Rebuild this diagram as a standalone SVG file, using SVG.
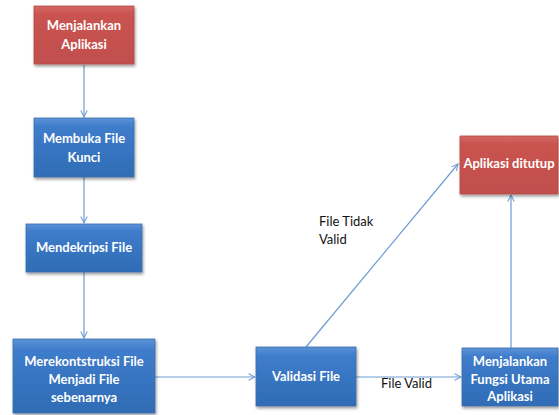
<svg xmlns="http://www.w3.org/2000/svg" width="559" height="415" viewBox="0 0 559 415">
<style>
.t{font-family:Lato,"Open Sans","Liberation Sans",sans-serif;font-weight:bold;font-size:13px;fill:#fff;text-anchor:middle}
.l{font-family:Lato,"Open Sans","Liberation Sans",sans-serif;font-size:13px;fill:#111}
.c{stroke:#6f9bd2;stroke-width:1.2;fill:none;marker-end:url(#ah)}
.red{fill:url(#gr);stroke:#b54a47;stroke-width:0.8;filter:url(#sh)}
.blue{fill:url(#gb);stroke:#3d6ea8;stroke-width:0.8;filter:url(#sh)}
</style>
<defs>
<linearGradient id="gr" x1="0" y1="0" x2="0" y2="1">
<stop offset="0" stop-color="#d46865"/><stop offset="0.15" stop-color="#c9524f"/><stop offset="1" stop-color="#c0504d"/>
</linearGradient>
<linearGradient id="gb" x1="0" y1="0" x2="0" y2="1">
<stop offset="0" stop-color="#5c93d8"/><stop offset="0.15" stop-color="#3f7ccb"/><stop offset="1" stop-color="#2f6cb5"/>
</linearGradient>
<filter id="sh" x="-10%" y="-10%" width="125%" height="130%">
<feDropShadow dx="1" dy="2" stdDeviation="1.5" flood-color="#000" flood-opacity="0.4"/>
</filter>
<marker id="ah" viewBox="0 0 10 10" refX="9" refY="5" markerWidth="8" markerHeight="8" orient="auto" markerUnits="userSpaceOnUse">
<path d="M1,1 L9,5 L1,9" fill="none" stroke="#6f9bd2" stroke-width="1.3"/>
</marker>
</defs>
<rect width="559" height="415" fill="#fff"/>
<g id="connectors">
<line class="c" x1="84" y1="65" x2="84" y2="117"/>
<line class="c" x1="84" y1="177" x2="84" y2="223"/>
<line class="c" x1="84" y1="272" x2="84" y2="338"/>
<line class="c" x1="155" y1="377" x2="255" y2="377"/>
<line class="c" x1="356" y1="377" x2="461" y2="377"/>
<line class="c" x1="306" y1="347" x2="458" y2="164"/>
<line class="c" x1="511" y1="348" x2="511" y2="195"/>
<text class="l" x="319" y="226">File Tidak</text>
<text class="l" x="319" y="244">Valid</text>
<text class="l" x="381" y="388">File  Valid</text>
</g>
<g id="n1"><rect class="red" x="34" y="6" width="100" height="58"/>
<text class="t" x="84" y="30">Menjalankan</text><text class="t" x="84" y="49">Aplikasi</text></g>
<g id="n2"><rect class="blue" x="34" y="118" width="100" height="59"/>
<text class="t" x="84" y="143">Membuka File</text><text class="t" x="84" y="162">Kunci</text></g>
<g id="n3"><rect class="blue" x="26" y="224" width="116" height="48"/>
<text class="t" x="84" y="252">Mendekripsi File</text></g>
<g id="n4"><rect class="blue" x="13" y="339" width="142" height="74"/>
<text class="t" x="84" y="366">Merekontstruksi  File</text><text class="t" x="84" y="384">Menjadi File</text><text class="t" x="84" y="402">sebenarnya</text></g>
<g id="n5"><rect class="blue" x="256" y="347" width="100" height="59"/>
<text class="t" x="306" y="381">Validasi File</text></g>
<g id="n6"><rect class="blue" x="462" y="348" width="96" height="58"/>
<text class="t" x="510" y="366">Menjalankan</text><text class="t" x="510" y="384">Fungsi Utama</text><text class="t" x="510" y="401">Aplikasi</text></g>
<g id="n7"><rect class="red" x="460" y="136" width="98" height="58"/>
<text class="t" x="509" y="168">Aplikasi ditutup</text></g>
</svg>
